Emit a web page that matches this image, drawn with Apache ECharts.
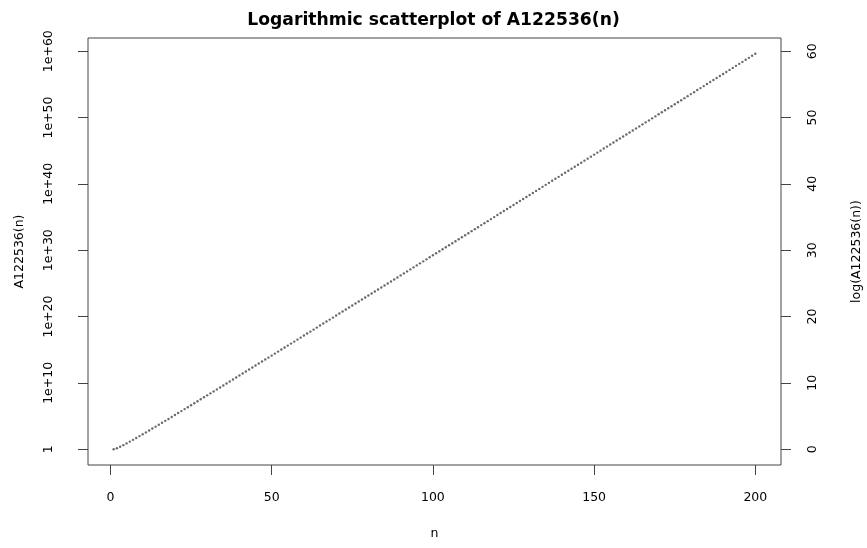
<!DOCTYPE html>
<html>
<head>
<meta charset="utf-8">
<script src="https://cdn.jsdelivr.net/npm/echarts@6/dist/echarts.min.js"></script>
<style>
html,body{margin:0;padding:0;background:#fff;}
#chart{width:867px;height:548px;}
</style>
</head>
<body>
<div id="chart"></div>
<script>
// log10(A122536(n)) for n = 1..200
const log10Values = [
  0.00, 0.15, 0.37, 0.61, 0.87, 1.14, 1.41, 1.69, 1.97, 2.25,
  2.53, 2.82, 3.11, 3.40, 3.69, 3.98, 4.27, 4.56, 4.86, 5.15,
  5.45, 5.74, 6.04, 6.33, 6.63, 6.93, 7.22, 7.52, 7.82, 8.12,
  8.42, 8.71, 9.01, 9.31, 9.61, 9.91, 10.21, 10.51, 10.81, 11.11,
  11.41, 11.71, 12.01, 12.31, 12.61, 12.91, 13.21, 13.51, 13.81, 14.11,
  14.41, 14.71, 15.02, 15.32, 15.62, 15.92, 16.22, 16.52, 16.82, 17.13,
  17.43, 17.73, 18.03, 18.33, 18.64, 18.94, 19.24, 19.54, 19.84, 20.15,
  20.45, 20.75, 21.05, 21.36, 21.66, 21.96, 22.26, 22.57, 22.87, 23.17,
  23.47, 23.78, 24.08, 24.38, 24.68, 24.99, 25.29, 25.59, 25.89, 26.20,
  26.50, 26.80, 27.11, 27.41, 27.71, 28.02, 28.32, 28.62, 28.93, 29.23,
  29.53, 29.83, 30.14, 30.44, 30.74, 31.05, 31.35, 31.65, 31.96, 32.26,
  32.56, 32.87, 33.17, 33.47, 33.78, 34.08, 34.38, 34.69, 34.99, 35.30,
  35.60, 35.90, 36.21, 36.51, 36.81, 37.12, 37.42, 37.72, 38.03, 38.33,
  38.63, 38.94, 39.24, 39.55, 39.85, 40.15, 40.46, 40.76, 41.06, 41.37,
  41.67, 41.98, 42.28, 42.58, 42.89, 43.19, 43.50, 43.80, 44.10, 44.41,
  44.71, 45.01, 45.32, 45.62, 45.93, 46.23, 46.53, 46.84, 47.14, 47.45,
  47.75, 48.05, 48.36, 48.66, 48.97, 49.27, 49.57, 49.88, 50.18, 50.49,
  50.79, 51.09, 51.40, 51.70, 52.01, 52.31, 52.61, 52.92, 53.22, 53.53,
  53.83, 54.14, 54.44, 54.74, 55.05, 55.35, 55.66, 55.96, 56.26, 56.57,
  56.87, 57.18, 57.48, 57.79, 58.09, 58.39, 58.70, 59.00, 59.31, 59.61
];
const xTicks = [0, 50, 100, 150, 200];
const yTicks = [0, 10, 20, 30, 40, 50, 60];
const leftTickLabels = ['1', '1e+10', '1e+20', '1e+30', '1e+40', '1e+50', '1e+60'];
const rightTickLabels = ['0', '10', '20', '30', '40', '50', '60'];

const points = log10Values.map((v, i) => [i + 1, v]);

const FONT = '"DejaVu Sans", Verdana, sans-serif';
const TXT = '#000';
const AX = '#444';
const FS = 12.5;

const yMin = -2.384, yMax = 61.99;
const xMin = -6.96, xMax = 207.96;

function yAxisDef(pos, labels, name, labelMargin, nameGap) {
  return {
    type: 'value', position: pos, min: yMin, max: yMax,
    axisLine: {show: false, onZero: false},
    splitLine: {show: false},
    axisTick: {show: true, length: 10, customValues: yTicks, lineStyle: {color: AX, width: 1}},
    axisLabel: {
      customValues: yTicks, rotate: 90, margin: labelMargin,
      color: TXT, fontFamily: FONT, fontSize: FS,
      formatter: v => labels[yTicks.indexOf(Math.round(v))]
    },
    name: name, nameLocation: 'middle', nameRotate: 90, nameGap: nameGap,
    nameTextStyle: {color: TXT, fontFamily: FONT, fontSize: FS}
  };
}

const chart = echarts.init(document.getElementById('chart'), null, {renderer: 'canvas'});
chart.setOption({
  animation: false,
  backgroundColor: '#fff',
  title: {
    text: 'Logarithmic scatterplot of A122536(n)',
    left: 'center', top: 7,
    textStyle: {fontFamily: FONT, fontSize: 17.2, fontWeight: 'bold', color: TXT}
  },
  grid: {
    left: 88, right: 86, top: 38, bottom: 83,
    outerBoundsMode: 'none', containLabel: false,
    show: true, borderColor: AX, borderWidth: 1, backgroundColor: 'transparent'
  },
  xAxis: {
    type: 'value', min: xMin, max: xMax,
    axisLine: {show: false, onZero: false},
    splitLine: {show: false},
    axisTick: {show: true, length: 10, customValues: xTicks, lineStyle: {color: AX, width: 1}},
    axisLabel: {customValues: xTicks, margin: 26, color: TXT, fontFamily: FONT, fontSize: FS},
    name: 'n', nameLocation: 'middle', nameGap: 62,
    nameTextStyle: {color: TXT, fontFamily: FONT, fontSize: FS}
  },
  yAxis: [
    yAxisDef('left', leftTickLabels, 'A122536(n)', 33, 62),
    yAxisDef('right', rightTickLabels, 'log(A122536(n))', 25, 69)
  ],
  series: [{
    type: 'scatter', yAxisIndex: 0,
    data: points,
    symbol: 'circle', symbolSize: 2.4,
    itemStyle: {color: '#444'}
  }]
});
</script>
</body>
</html>
